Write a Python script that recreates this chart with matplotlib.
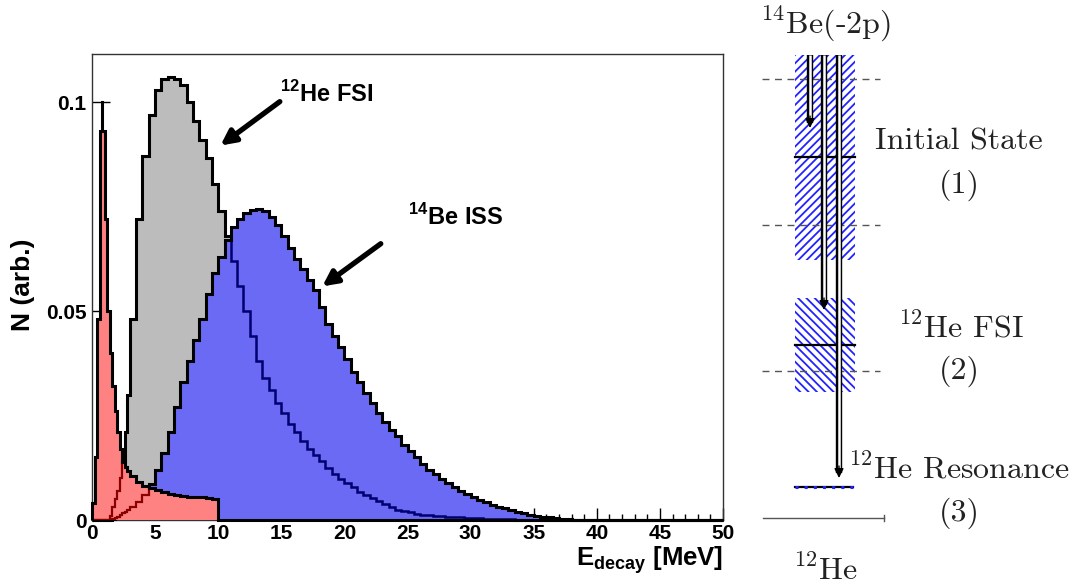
import matplotlib
matplotlib.use("Agg")
import matplotlib.pyplot as plt
import numpy as np
from matplotlib.patches import Rectangle

plt.rcParams["font.family"] = ["Liberation Sans", "DejaVu Sans"]
plt.rcParams["mathtext.fontset"] = "custom"
plt.rcParams["mathtext.rm"] = "Liberation Sans:bold"
plt.rcParams["mathtext.bf"] = "Liberation Sans:bold"
plt.rcParams["hatch.linewidth"] = 1.3

# bin edges [MeV]: 0.2 MeV bins to 3, 0.5 MeV bins to 40, one empty bin to 50
edges = np.concatenate([np.linspace(0, 3, 16), np.linspace(3.5, 40, 74), [50.0]])

# 12He resonance (red)
red_vals = [0.004, 0.015, 0.048, 0.093, 0.093, 0.072, 0.050, 0.040, 0.032, 0.026,
            0.021, 0.017, 0.0138, 0.0126, 0.0118,
            0.0105, 0.0092, 0.0082, 0.0076, 0.0071, 0.0067, 0.0063, 0.0060, 0.0058, 0.0056,
            0.0055, 0.0054, 0.0052, 0.0051] + [0.0] * 61

# 12He FSI (gray)
fsi_vals = [0, 0, 0, 0, 0, 0, 0, 0.001, 0.003, 0.005, 0.007, 0.010, 0.014, 0.021, 0.030,
            0.048, 0.072, 0.087, 0.097, 0.103, 0.1055, 0.106, 0.1055, 0.104, 0.100,
            0.0955, 0.091, 0.0865, 0.0805, 0.074, 0.068, 0.062, 0.056, 0.050, 0.044,
            0.038, 0.034, 0.031, 0.028, 0.0255, 0.023, 0.021, 0.019, 0.017, 0.0155,
            0.014, 0.0125, 0.011, 0.0098, 0.0088, 0.0078, 0.0068, 0.0060, 0.0052, 0.0045,
            0.0038, 0.0031, 0.0025, 0.0021, 0.0018, 0.0015, 0.0013, 0.0011, 0.0010, 0.0009,
            0.0008, 0.0007, 0.0006, 0.0005, 0.0004, 0.0004, 0.0003, 0.0003, 0.0002, 0.0002,
            0.0002, 0.0001, 0.0001, 0.0001, 0.0001, 0.0001, 0, 0, 0, 0,
            0, 0, 0, 0, 0]

# 14Be initial state (blue)
iss_vals = [0, 0, 0, 0, 0, 0, 0, 0, 0.0002, 0.0005, 0.0008, 0.0012, 0.0016, 0.0020, 0.0024,
            0.0030, 0.0042, 0.0060, 0.0085, 0.012, 0.016, 0.021, 0.027, 0.033, 0.038,
            0.043, 0.048, 0.054, 0.059, 0.063, 0.067, 0.070, 0.072, 0.0735, 0.0742,
            0.0745, 0.074, 0.0725, 0.0705, 0.068, 0.065, 0.0625, 0.060, 0.0575, 0.055,
            0.051, 0.047, 0.044, 0.0415, 0.0385, 0.0355, 0.033, 0.0305, 0.028, 0.0255,
            0.0235, 0.0215, 0.020, 0.018, 0.0165, 0.015, 0.0135, 0.012, 0.011, 0.0098,
            0.0088, 0.0078, 0.0069, 0.0062, 0.0055, 0.0048, 0.0042, 0.0037, 0.0032, 0.0028,
            0.0024, 0.0020, 0.0016, 0.0013, 0.0010, 0.0008, 0.0006, 0.0004, 0.0003, 0.0002,
            0.0001, 0.0001, 0, 0, 0]

peak_err = (0.8, 0.093, 0.1)  # x, low, high of the resonance peak error bar

W, H = 1091, 588
fig = plt.figure(figsize=(W / 100, H / 100), dpi=100)
ax = fig.add_axes([92 / W, 1 - 520 / H, (723 - 92) / W, (520 - 54) / H])

LW = 2.2
# gray FSI
ax.stairs(fsi_vals, edges, fill=True, color="#bcbcbc", zorder=1)
ax.stairs(fsi_vals, edges, color="black", lw=LW, zorder=2, clip_on=False)
# blue ISS, gray outline shows through as navy
blue_fill = ax.stairs(iss_vals, edges, fill=True, color="#6a6af4", zorder=3)
ln = ax.stairs(fsi_vals, edges, color="#000070", lw=LW - 0.4, zorder=4)
ln.set_clip_path(blue_fill)
ax.stairs(iss_vals, edges, color="black", lw=LW, zorder=5, clip_on=False)
# red resonance, other outlines show through as dark red
red_fill = ax.stairs(red_vals, edges, fill=True, color="#ff8282", zorder=6)
for vals in (fsi_vals, iss_vals):
    ln = ax.stairs(vals, edges, color="#8a0000", lw=LW - 0.6, zorder=7)
    ln.set_clip_path(red_fill)
ax.stairs(red_vals, edges, color="black", lw=LW, zorder=8, clip_on=False)
ax.plot([peak_err[0]] * 2, peak_err[1:], color="black", lw=2.2, zorder=9)

ax.set_xlim(0, 50)
ax.set_ylim(0, 0.1115)
ax.set_xticks(np.arange(0, 51, 5))
ax.set_xticks(np.arange(0, 51, 1), minor=True)
ax.set_yticks([0, 0.05, 0.1])
ax.set_yticklabels(["0", "0.05", "0.1"])
ax.tick_params(axis="both", which="both", direction="in", top=False, right=False,
               labelsize=15, width=1.0, colors="black", zorder=10)
ax.tick_params(axis="x", which="major", length=9, pad=3)
ax.tick_params(axis="x", which="minor", length=4.5)
ax.tick_params(axis="y", which="major", length=13, pad=4)
for lab in ax.get_xticklabels() + ax.get_yticklabels():
    lab.set_fontweight("bold")
for sp in ax.spines.values():
    sp.set_linewidth(1.0)
    sp.set_color("#333333")

fig.text(723 / W, 1 - 566 / H, r"E$_{\mathbf{decay}}$ [MeV]", ha="right", va="baseline",
         fontsize=18.5, fontweight="bold")
fig.text(23 / W, 1 - 285 / H, "N (arb.)", rotation=90, ha="center", va="center",
         fontsize=19, fontweight="bold")

# annotations with arrows
ax.text(14.9, 0.1, r"$^{\mathbf{12}}$He FSI", fontsize=17, fontweight="bold",
        ha="left", va="baseline", zorder=11)
ax.annotate("", xy=(10.0, 0.0892), xytext=(15.06, 0.1005),
            arrowprops=dict(arrowstyle="-|>", color="black", lw=3.8, mutation_scale=22),
            zorder=11)
ax.text(25.04, 0.0706, r"$^{\mathbf{14}}$Be ISS", fontsize=17, fontweight="bold",
        ha="left", va="baseline", zorder=11)
ax.annotate("", xy=(18.07, 0.0555), xytext=(23.06, 0.0665),
            arrowprops=dict(arrowstyle="-|>", color="black", lw=3.8, mutation_scale=22),
            zorder=11)

# ---- level scheme on the right (pixel coordinates) ----
dax = fig.add_axes([0, 0, 1, 1])
dax.set_xlim(0, W)
dax.set_ylim(H, 0)
dax.axis("off")

dax.add_patch(Rectangle((795, 55), 60, 205, fill=False, edgecolor="#2222ff",
                        lw=0, hatch="////"))
dax.add_patch(Rectangle((795, 298), 60, 94, fill=False, edgecolor="#2222ff",
                        lw=0, hatch="\\\\\\\\"))
for y in (79, 225, 371):
    dax.plot([762, 880], [y, y], color="#555555", lw=1.0, ls=(0, (5, 4)))
for y in (157, 345):
    dax.plot([795, 855], [y, y], color="black", lw=1.6)
dax.plot([795, 853], [487, 487], color="black", lw=1.6)
dax.plot([795, 853], [487, 487], color="#2222ff", lw=2.2, ls=(0, (1, 2)))
dax.plot([763, 884], [518, 518], color="#555555", lw=1.0)
dax.plot([884, 884], [515, 521], color="#555555", lw=1.0)


def double_arrow(x, y0, y1):
    dax.plot([x, x], [y0, y1 - 5], color="black", lw=4.6, solid_capstyle="butt")
    dax.plot([x, x], [y0, y1 - 8], color="white", lw=1.8, solid_capstyle="butt")
    dax.annotate("", xy=(x, y1), xytext=(x, y1 - 12),
                 arrowprops=dict(arrowstyle="-|>", color="black", lw=1.0,
                                 mutation_scale=14, shrinkA=0, shrinkB=0))


double_arrow(810, 55, 128)
double_arrow(824, 55, 310)
double_arrow(839, 55, 478)

cm = dict(family="cmr10", math_fontfamily="cm", fontsize=23, color="#222222")
dax.text(760, 33, r"$^{14}$Be(-2p)", ha="left", va="baseline", **cm)
dax.text(875, 150, "Initial State", ha="left", va="baseline", **cm)
dax.text(959, 185, "(1)", ha="center", va="center", **cm)
dax.text(898, 337, r"$^{12}$He FSI", ha="left", va="baseline", **cm)
dax.text(959, 371, "(2)", ha="center", va="center", **cm)
dax.text(848, 478, r"$^{12}$He Resonance", ha="left", va="baseline", **cm)
dax.text(959, 513, "(3)", ha="center", va="center", **cm)
dax.text(793, 580, r"$^{12}$He", ha="left", va="baseline", **cm)

fig.savefig("out.png", dpi=100, facecolor="white")
